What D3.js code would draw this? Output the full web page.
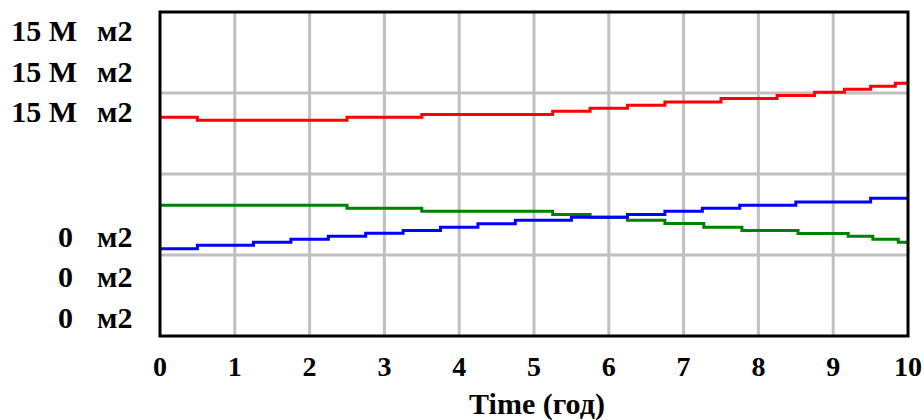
<!DOCTYPE html>
<html>
<head>
<meta charset="utf-8">
<script src="https://cdn.jsdelivr.net/npm/d3@7/dist/d3.min.js"></script>
<style>
  html, body { margin: 0; padding: 0; background: #fff; }
  svg { display: block; }
</style>
</head>
<body>
<div id="chart"></div>
<script>
// Stock levels (M m2), stepwise by year.
const redTimes   = [0, 0.5, 2.5, 3.5, 5.25, 5.75, 6.25, 6.75, 7.5, 8.25, 8.75, 9.15, 9.5, 9.83];
const redValues  = [10.13, 9.99, 10.13, 10.26, 10.40, 10.54, 10.68, 10.83, 11.00, 11.14, 11.28, 11.42, 11.56, 11.70];

const greenTimes  = [0, 2.5, 3.5, 5.25, 5.75, 6.25, 6.75, 7.27, 7.78, 8.53, 9.2, 9.53, 9.87];
const greenValues = [6.05, 5.91, 5.77, 5.63, 5.50, 5.36, 5.21, 5.04, 4.89, 4.75, 4.62, 4.48, 4.34];

const blueTimes  = [0, 0.5, 1.25, 1.75, 2.25, 2.75, 3.25, 3.75, 4.25, 4.75, 5.5, 6.25, 6.75, 7.25, 7.75, 8.5, 9.5];
const blueValues = [4.04, 4.20, 4.34, 4.48, 4.62, 4.76, 4.89, 5.03, 5.20, 5.36, 5.50, 5.63, 5.77, 5.91, 6.05, 6.20, 6.38];

const xTicks      = [0, 1, 2, 3, 4, 5, 6, 7, 8, 9, 10];
const yGridValues = [3.75, 7.5, 11.25];
const topLabels   = ['15 M', '15 M', '15 M'];
const bottomLabels = ['0', '0', '0'];
const unitLabel   = 'м2';
const xTitle      = 'Time (год)';

const W = 924, H = 420;
const plot = { left: 160, right: 908, top: 12, bottom: 336 };
const FONT = '"Liberation Serif", "DejaVu Serif", serif';

const svg = d3.select('#chart').append('svg')
    .attr('width', W).attr('height', H);

const x = d3.scaleLinear().domain([0, 10]).range([plot.left, plot.right]);
const y = d3.scaleLinear().domain([0, 15]).range([plot.bottom, plot.top]);

// Grid lines
svg.append('g').selectAll('line')
    .data(xTicks.slice(1, -1))
    .join('line')
    .attr('x1', d => x(d)).attr('x2', d => x(d))
    .attr('y1', plot.top).attr('y2', plot.bottom)
    .attr('stroke', '#c0c0c0').attr('stroke-width', 3);

svg.append('g').selectAll('line')
    .data(yGridValues)
    .join('line')
    .attr('x1', plot.left).attr('x2', plot.right)
    .attr('y1', d => y(d)).attr('y2', d => y(d))
    .attr('stroke', '#c0c0c0').attr('stroke-width', 3);

// Series, drawn as steps
const line = d3.line()
    .x(d => x(d[0]))
    .y(d => y(d[1]))
    .curve(d3.curveStepAfter);

function series(times, values, color) {
    const pts = times.map((t, i) => [t, values[i]]);
    pts.push([10, values[values.length - 1]]);
    svg.append('path')
        .datum(pts)
        .attr('fill', 'none')
        .attr('stroke', color)
        .attr('stroke-width', 3)
        .attr('d', line);
}
series(redTimes, redValues, '#ff0000');
series(greenTimes, greenValues, '#008000');
series(blueTimes, blueValues, '#0000ff');

// Frame
svg.append('rect')
    .attr('x', plot.left).attr('y', plot.top)
    .attr('width', plot.right - plot.left)
    .attr('height', plot.bottom - plot.top)
    .attr('fill', 'none')
    .attr('stroke', '#000').attr('stroke-width', 3);

// X tick labels
svg.append('g').selectAll('text')
    .data(xTicks)
    .join('text')
    .attr('x', d => x(d)).attr('y', 376)
    .attr('text-anchor', 'middle')
    .style('font-family', FONT).style('font-size', '28px')
    .style('font-weight', 'bold')
    .text(d => d);

svg.append('text')
    .attr('x', 537).attr('y', 414)
    .attr('text-anchor', 'middle')
    .style('font-family', FONT).style('font-size', '30px')
    .style('font-weight', 'bold')
    .text(xTitle);

// Stacked Y-axis labels (one per series)
const topBase = [41, 82, 122], botBase = [247, 287, 328];
function yLabels(labels, bases, endX) {
    const g = svg.append('g')
        .style('font-family', FONT).style('font-size', '30px')
        .style('font-weight', 'bold');
    labels.forEach((lab, i) => {
        g.append('text').attr('x', endX).attr('y', bases[i])
            .attr('text-anchor', 'end').text(lab);
        g.append('text').attr('x', 97).attr('y', bases[i])
            .text(unitLabel);
    });
}
yLabels(topLabels, topBase, 77);
yLabels(bottomLabels, botBase, 73);
</script>
</body>
</html>
